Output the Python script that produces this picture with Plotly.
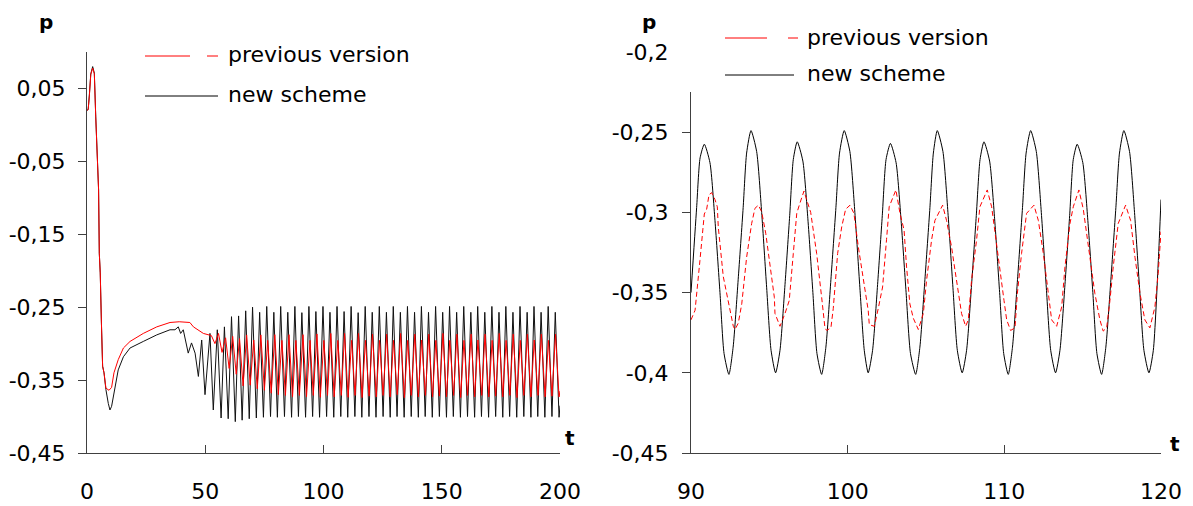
import plotly.graph_objects as go

# ---------------- data ----------------
# Overview panel (t = 0..200): "new scheme"
t_ov_new = [0.0, 0.5, 1.0, 1.6, 2.4, 3.1, 3.7, 4.4, 4.9, 5.2, 5.6, 6.1, 6.6, 7.2, 8.0,
            9.0, 9.7, 10.4, 11.4, 13.2, 15.4, 18.2, 23.8, 29.5, 35.1,
            37.2, 38.6, 39.6, 40.7, 42.8, 44.2, 45.7, 47.1, 48.5, 49.9, 52.0, 53.4,
            55.1, 56.7, 58.1, 59.7, 61.1, 62.7, 64.1, 65.6, 67.1, 68.6, 70.0, 71.6,
            73.0, 74.6, 76.0, 77.6, 79.0, 80.5, 81.9, 83.5, 84.9, 86.5, 87.9, 89.4,
            90.85, 92.42, 93.83, 95.40, 96.78, 98.34, 99.78, 101.31, 102.73, 104.34,
            105.72, 107.31, 108.70, 110.25, 111.68, 113.27, 114.65, 116.21, 117.63, 119.23,
            120.6, 122.2, 123.6, 125.2, 126.6, 128.2, 129.5, 131.1, 132.5, 134.1,
            135.5, 137.1, 138.5, 140.1, 141.4, 143.0, 144.4, 146.0, 147.4, 149.0,
            150.4, 152.0, 153.3, 154.9, 156.3, 157.9, 159.3, 160.9, 162.3, 163.9,
            165.2, 166.8, 168.2, 169.8, 171.2, 172.8, 174.2, 175.8, 177.1, 178.7,
            180.1, 181.7, 183.1, 184.7, 186.1, 187.7, 189.0, 190.6, 192.0, 193.6,
            195.0, 196.6, 198.0, 199.6, 200.0]
p_ov_new = [0.020, 0.021, 0.041, 0.070, 0.080, 0.071, 0.011, -0.066, -0.089, -0.176, -0.203, -0.272, -0.331, -0.340, -0.363,
            -0.382, -0.391, -0.386, -0.368, -0.336, -0.318, -0.306, -0.297, -0.288, -0.281,
            -0.281, -0.277, -0.286, -0.281, -0.313, -0.299, -0.313, -0.345, -0.295, -0.370, -0.286, -0.391,
            -0.281, -0.402, -0.277, -0.403, -0.263, -0.407, -0.262, -0.405, -0.255, -0.403, -0.250, -0.402,
            -0.257, -0.401, -0.249, -0.400, -0.257, -0.401, -0.249, -0.400, -0.257, -0.401, -0.249, -0.400,
            -0.2575, -0.401, -0.249, -0.400, -0.256, -0.401, -0.249, -0.400, -0.257, -0.401,
            -0.249, -0.400, -0.256, -0.401, -0.249, -0.400, -0.2575, -0.401, -0.249, -0.400,
            -0.257, -0.401, -0.249, -0.400, -0.257, -0.401, -0.249, -0.400, -0.257, -0.401,
            -0.249, -0.400, -0.257, -0.401, -0.249, -0.400, -0.257, -0.401, -0.249, -0.400,
            -0.257, -0.401, -0.249, -0.400, -0.257, -0.401, -0.249, -0.400, -0.257, -0.401,
            -0.249, -0.400, -0.257, -0.401, -0.249, -0.400, -0.257, -0.401, -0.249, -0.400,
            -0.257, -0.401, -0.249, -0.400, -0.257, -0.401, -0.249, -0.400, -0.257, -0.401,
            -0.249, -0.400, -0.257, -0.401, -0.385]

# Overview panel: "previous version"
t_ov_prev = [0.0, 0.5, 1.0, 1.6, 2.4, 3.1, 3.7, 4.4, 4.9, 5.2, 5.6, 6.1, 6.6, 7.2, 8.0,
             9.3, 10.4, 11.4, 13.2, 15.4, 18.2, 23.8, 29.5, 35.1, 37.2, 39.0, 43.5, 45.0, 49.2, 51.3,
             52.6, 54.1, 55.6, 57.1, 58.6, 60.1, 61.6, 63.1, 64.5, 66.0, 67.5, 69.0, 70.5,
             72.0, 73.5, 75.0, 76.4, 77.9, 79.4, 80.9, 82.4, 83.9, 85.4, 86.9, 88.3, 89.8,
             91.32, 92.81, 94.30, 95.68, 97.21, 98.66, 100.15, 101.70, 103.08, 104.51,
             106.06, 107.53, 108.91, 110.40, 111.89, 113.34, 114.76, 116.31, 117.74, 119.29,
             120.7, 122.3, 123.7, 125.2, 126.7, 128.2, 129.6, 131.2, 132.6, 134.2,
             135.6, 137.1, 138.6, 140.1, 141.5, 143.1, 144.5, 146.1, 147.5, 149.0,
             150.5, 152.0, 153.4, 155.0, 156.4, 158.0, 159.4, 160.9, 162.4, 163.9,
             165.3, 166.9, 168.3, 169.9, 171.3, 172.8, 174.3, 175.8, 177.2, 178.8,
             180.2, 181.8, 183.2, 184.7, 186.2, 187.7, 189.1, 190.7, 192.1, 193.7,
             195.1, 196.6, 198.1, 199.6, 200.0]
p_ov_prev = [0.020, 0.021, 0.040, 0.069, 0.078, 0.070, 0.010, -0.066, -0.089, -0.176, -0.203, -0.272, -0.331, -0.340, -0.361,
             -0.364, -0.360, -0.340, -0.322, -0.306, -0.297, -0.286, -0.277, -0.271, -0.270, -0.270, -0.271, -0.277, -0.286, -0.288,
             -0.289, -0.300, -0.286, -0.312, -0.292, -0.334, -0.290, -0.342, -0.293, -0.358, -0.288, -0.357, -0.295,
             -0.362, -0.288, -0.364, -0.2955, -0.368, -0.2877, -0.370, -0.2955, -0.371, -0.2877, -0.373, -0.2955, -0.371,
             -0.2877, -0.373, -0.2955, -0.371, -0.2867, -0.3736, -0.2955, -0.371, -0.286, -0.373,
             -0.2955, -0.371, -0.286, -0.3736, -0.2955, -0.371, -0.286, -0.374, -0.2955, -0.372,
             -0.287, -0.373, -0.2955, -0.371, -0.287, -0.373, -0.2955, -0.370, -0.286, -0.374,
             -0.2955, -0.371, -0.287, -0.373, -0.295, -0.371, -0.287, -0.373, -0.2955, -0.372,
             -0.286, -0.373, -0.2955, -0.371, -0.287, -0.374, -0.2955, -0.371, -0.287, -0.373,
             -0.295, -0.371, -0.287, -0.373, -0.2955, -0.372, -0.286, -0.373, -0.2955, -0.371,
             -0.287, -0.374, -0.2955, -0.371, -0.287, -0.373, -0.295, -0.371, -0.287, -0.373,
             -0.2955, -0.372, -0.287, -0.373, -0.365]

# Zoom panel (t = 90..120): "new scheme"
t_zoom_new = [90.00, 90.36, 90.58, 90.85,
              91.21, 91.53, 91.85, 92.11, 92.42, 92.69, 93.01, 93.33, 93.55, 93.83,
              94.19, 94.51, 94.83, 95.11, 95.40, 95.68, 96.00, 96.30, 96.53, 96.78,
              97.14, 97.46, 97.78, 98.04, 98.34, 98.61, 98.93, 99.25, 99.48, 99.78,
              100.14, 100.46, 100.78, 101.06, 101.31, 101.59, 101.91, 102.21, 102.45, 102.73,
              103.09, 103.41, 103.73, 104.01, 104.34, 104.61, 104.93, 105.25, 105.47, 105.72,
              106.08, 106.40, 106.72, 107.00, 107.31, 107.59, 107.91, 108.21, 108.45, 108.70,
              109.06, 109.38, 109.70, 109.96, 110.25, 110.52, 110.84, 111.16, 111.39, 111.68,
              112.04, 112.36, 112.68, 112.96, 113.27, 113.55, 113.87, 114.17, 114.40, 114.65,
              115.01, 115.33, 115.65, 115.91, 116.21, 116.48, 116.80, 117.12, 117.35, 117.63,
              117.99, 118.31, 118.63, 118.91, 119.23, 119.51, 119.83, 120.00]
p_zoom_new = [-0.350, -0.297, -0.266, -0.2575,
              -0.269, -0.305, -0.350, -0.388, -0.401, -0.384, -0.342, -0.297, -0.263, -0.249,
              -0.262, -0.300, -0.347, -0.386, -0.400, -0.386, -0.345, -0.302, -0.267, -0.256,
              -0.268, -0.304, -0.350, -0.388, -0.401, -0.384, -0.342, -0.297, -0.263, -0.249,
              -0.262, -0.300, -0.347, -0.386, -0.400, -0.386, -0.345, -0.302, -0.267, -0.257,
              -0.269, -0.305, -0.350, -0.388, -0.401, -0.384, -0.342, -0.297, -0.263, -0.249,
              -0.262, -0.300, -0.347, -0.386, -0.400, -0.386, -0.345, -0.302, -0.267, -0.256,
              -0.268, -0.304, -0.350, -0.388, -0.401, -0.384, -0.342, -0.297, -0.263, -0.249,
              -0.262, -0.300, -0.347, -0.386, -0.400, -0.386, -0.345, -0.302, -0.267, -0.2575,
              -0.269, -0.305, -0.350, -0.388, -0.401, -0.384, -0.342, -0.297, -0.263, -0.249,
              -0.262, -0.300, -0.347, -0.386, -0.400, -0.386, -0.330, -0.292]

# Zoom panel: "previous version"
t_zoom_prev = [90.00, 90.26, 90.57, 90.85, 91.00, 91.15, 91.32,
               91.53, 91.68, 91.74, 92.06, 92.38, 92.55, 92.70, 92.81, 93.02, 93.24, 93.55, 93.87, 94.08, 94.30,
               94.51, 94.77, 95.04, 95.32, 95.36, 95.68, 96.00, 96.27, 96.53, 96.75, 96.96, 97.21,
               97.64, 98.02, 98.34, 98.55, 98.66, 98.93, 99.08, 99.36, 99.62, 99.87, 100.15,
               100.40, 100.68, 101.10, 101.31, 101.38, 101.70, 101.95, 102.23, 102.48, 102.65, 103.08,
               103.34, 103.60, 103.76, 103.97, 104.19, 104.51, 104.83, 105.04, 105.36, 105.57, 106.06,
               106.31, 106.63, 106.85, 107.27, 107.53, 107.70, 107.91, 108.23, 108.44, 108.91,
               109.19, 109.40, 109.72, 109.98, 110.15, 110.40, 110.68, 110.83, 111.10, 111.42, 111.89,
               112.17, 112.49, 112.81, 113.02, 113.34, 113.66, 113.87, 114.19, 114.40, 114.76,
               115.04, 115.36, 115.78, 116.10, 116.31, 116.53, 116.74, 116.95, 117.27, 117.74,
               118.06, 118.34, 118.66, 118.97, 119.29, 119.61, 119.82, 120.00]
p_zoom_prev = [-0.367, -0.361, -0.330, -0.301, -0.298, -0.289, -0.2877,
               -0.292, -0.2965, -0.309, -0.340, -0.355, -0.365, -0.371, -0.373, -0.369, -0.357, -0.328, -0.307, -0.2975, -0.2955,
               -0.2996, -0.313, -0.334, -0.353, -0.363, -0.371, -0.363, -0.355, -0.3256, -0.3006, -0.294, -0.2867,
               -0.300, -0.3256, -0.353, -0.372, -0.3736, -0.372, -0.360, -0.3256, -0.309, -0.298, -0.2955,
               -0.3006, -0.3215, -0.3465, -0.361, -0.370, -0.371, -0.360, -0.3465, -0.317, -0.2965, -0.286,
               -0.3006, -0.311, -0.334, -0.357, -0.366, -0.373, -0.363, -0.342, -0.317, -0.305, -0.2955,
               -0.305, -0.3215, -0.336, -0.363, -0.371, -0.367, -0.342, -0.317, -0.2965, -0.286,
               -0.2965, -0.313, -0.338, -0.355, -0.367, -0.3736, -0.372, -0.3506, -0.3256, -0.3006, -0.2955,
               -0.305, -0.3256, -0.353, -0.367, -0.371, -0.359, -0.334, -0.3069, -0.2965, -0.286,
               -0.298, -0.3215, -0.3506, -0.367, -0.374, -0.372, -0.355, -0.334, -0.3069, -0.2955,
               -0.305, -0.328, -0.3506, -0.367, -0.372, -0.359, -0.338, -0.312]

# tick labels
x_ticks_left = [0, 50, 100, 150, 200]
y_ticks_left = [-0.45, -0.35, -0.25, -0.15, -0.05, 0.05]
y_text_left = ["-0,45", "-0,35", "-0,25", "-0,15", "-0,05", "0,05"]
x_ticks_right = [90, 100, 110, 120]
y_ticks_right = [-0.45, -0.4, -0.35, -0.3, -0.25, -0.2]
y_text_right = ["-0,45", "-0,4", "-0,35", "-0,3", "-0,25", "-0,2"]
series_names = ["previous version", "new scheme"]

# ---------------- figure ----------------
# the page body has an 8 px default margin, so the figure is sized to fill the
# remaining window and positions below are given in window pixels
OFF = 8
W, H = 1193 - OFF, 506 - OFF
FONT = "DejaVu Sans"
AX = "#404040"


def px(x):
    return (x - OFF) / W


def py(y):
    return 1 - (y - OFF) / H


fig = go.Figure()
fig.add_trace(go.Scatter(x=t_ov_new, y=p_ov_new, mode="lines", xaxis="x", yaxis="y",
                         line=dict(color="#111111", width=1), showlegend=False, hoverinfo="skip"))
fig.add_trace(go.Scatter(x=t_ov_prev, y=p_ov_prev, mode="lines", xaxis="x", yaxis="y",
                         line=dict(color="#ff0000", width=1), showlegend=False, hoverinfo="skip"))
fig.add_trace(go.Scatter(x=t_zoom_new, y=p_zoom_new, mode="lines", xaxis="x2", yaxis="y2",
                         line=dict(color="#000000", width=1, shape="spline", smoothing=0.6),
                         showlegend=False, hoverinfo="skip"))
fig.add_trace(go.Scatter(x=t_zoom_prev, y=p_zoom_prev, mode="lines", xaxis="x2", yaxis="y2",
                         line=dict(color="#ff0000", width=1, dash="5px,3px"),
                         showlegend=False, hoverinfo="skip"))

tickfont = dict(family=FONT, size=22, color="black")
common = dict(showgrid=False, zeroline=False, showline=True, linecolor=AX, linewidth=1,
              tickcolor=AX, tickwidth=1, ticklen=8, tickfont=tickfont, fixedrange=True,
              automargin=False)

fig.update_layout(
    width=W, height=H,
    margin=dict(l=0, r=0, t=0, b=0, autoexpand=False),
    paper_bgcolor="white", plot_bgcolor="white",
    showlegend=False,
    xaxis=dict(domain=[px(87), px(560)], range=[0, 200], anchor="y",
               tickmode="array", tickvals=x_ticks_left, ticktext=[str(v) for v in x_ticks_left],
               ticks="inside", ticklabelstandoff=19, **common),
    yaxis=dict(domain=[py(453), py(52)], range=[-0.45, 0.10], anchor="x",
               tickmode="array", tickvals=y_ticks_left, ticktext=y_text_left,
               ticks="outside", ticklabelstandoff=8, **common),
    xaxis2=dict(domain=[px(691), px(1161)], range=[90, 120], anchor="y2",
                tickmode="array", tickvals=x_ticks_right, ticktext=[str(v) for v in x_ticks_right],
                ticks="inside", ticklabelstandoff=19, **common),
    yaxis2=dict(domain=[py(453), py(52)], range=[-0.45, -0.2], anchor="x2",
                tickmode="array", tickvals=y_ticks_right, ticktext=y_text_right,
                ticks="outside", ticklabelstandoff=9, **common),
)

shapes = []
# white legend area hiding the top of the right value axis
shapes.append(dict(type="rect", xref="paper", yref="paper", x0=px(676), x1=px(702), y0=py(92), y1=py(40),
                   fillcolor="white", line=dict(width=0), layer="above"))

# legend samples
red = dict(color="#ff0000", width=1)
blk = dict(color="#000000", width=1)
shapes += [
    dict(type="line", xref="paper", yref="paper", x0=px(145), x1=px(190), y0=py(56), y1=py(56), line=red),
    dict(type="line", xref="paper", yref="paper", x0=px(207), x1=px(218), y0=py(56), y1=py(56), line=red),
    dict(type="line", xref="paper", yref="paper", x0=px(145), x1=px(218), y0=py(96), y1=py(96), line=blk),
    dict(type="line", xref="paper", yref="paper", x0=px(725), x1=px(767), y0=py(38), y1=py(38), line=red),
    dict(type="line", xref="paper", yref="paper", x0=px(788), x1=px(798), y0=py(38), y1=py(38), line=red),
    dict(type="line", xref="paper", yref="paper", x0=px(725), x1=px(794), y0=py(75), y1=py(75), line=blk),
]
fig.update_layout(shapes=shapes)

legfont = dict(family=FONT, size=22, color="black")
labfont = dict(family=FONT, size=20, color="black")
ann = [
    dict(text=series_names[0], x=px(226), y=py(55), xanchor="left", yanchor="middle", font=legfont),
    dict(text=series_names[1], x=px(226), y=py(94), xanchor="left", yanchor="middle", font=legfont),
    dict(text=series_names[0], x=px(805), y=py(37), xanchor="left", yanchor="middle", font=legfont),
    dict(text=series_names[1], x=px(805), y=py(73), xanchor="left", yanchor="middle", font=legfont),
    dict(text="<b>p</b>", x=px(46), y=py(9), xanchor="center", yanchor="top", borderpad=0, font=labfont),
    dict(text="<b>p</b>", x=px(649), y=py(9), xanchor="center", yanchor="top", borderpad=0, font=labfont),
    dict(text="<b>t</b>", x=px(570), y=py(438), xanchor="center", yanchor="middle", font=labfont),
    dict(text="<b>t</b>", x=px(1175), y=py(444), xanchor="center", yanchor="middle", font=labfont),
]
for a in ann:
    a.update(xref="paper", yref="paper", showarrow=False)
fig.update_layout(annotations=ann)

fig.write_html("out.html")
